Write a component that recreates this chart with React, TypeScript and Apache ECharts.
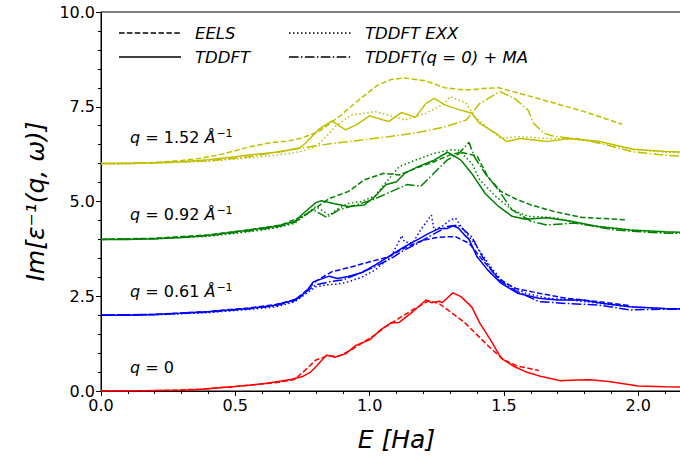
import React, { useEffect, useRef } from "react";
import * as echarts from "echarts";

type P = [number, number][];

const xTicks = [0, 0.5, 1.0, 1.5, 2.0];
const yTicks = [0, 2.5, 5.0, 7.5, 10.0];

const legendNames = ["EELS", "TDDFT", "TDDFT EXX", "TDDFT(q = 0) + MA"];
const qLabels = ["q = 1.52 ", "q = 0.92 ", "q = 0.61 ", "q = 0"];

// q = 0 (red)
const redTDDFT: P = [[0,0],[0.1,0],[0.2,0.01],[0.3,0.02],[0.37,0.04],[0.45,0.09],[0.49,0.11],[0.55,0.15],[0.61,0.2],[0.66,0.25],[0.71,0.31],[0.75,0.38],[0.78,0.5],[0.8,0.64],[0.82,0.8],[0.84,0.95],[0.87,0.89],[0.91,0.98],[0.95,1.21],[1.0,1.35],[1.04,1.61],[1.08,1.8],[1.11,1.81],[1.16,2.09],[1.21,2.4],[1.23,2.33],[1.26,2.37],[1.27,2.33],[1.31,2.59],[1.34,2.49],[1.38,2.22],[1.41,1.79],[1.45,1.35],[1.49,0.86],[1.54,0.64],[1.58,0.51],[1.64,0.38],[1.71,0.27],[1.77,0.29],[1.82,0.3],[1.89,0.25],[2.0,0.13],[2.1,0.11],[2.2,0.1]];
const redEELS: P = [[0,0],[0.1,0],[0.2,0.01],[0.3,0.03],[0.37,0.05],[0.45,0.09],[0.55,0.15],[0.65,0.22],[0.72,0.3],[0.76,0.55],[0.8,0.82],[0.84,0.92],[0.885,0.92],[0.93,1.08],[0.98,1.3],[1.02,1.48],[1.06,1.7],[1.11,1.92],[1.16,2.14],[1.22,2.38],[1.26,2.3],[1.3,2.09],[1.35,1.83],[1.4,1.48],[1.45,1.13],[1.5,0.82],[1.55,0.66],[1.63,0.54]];

// q = 0.61 (blue)
const blueTDDFT: P = [[0,2],[0.1,2.0],[0.2,2.02],[0.3,2.05],[0.4,2.09],[0.5,2.15],[0.55,2.18],[0.63,2.24],[0.7,2.36],[0.74,2.47],[0.77,2.68],[0.79,2.88],[0.85,3.03],[0.88,2.97],[0.92,3.02],[0.97,3.12],[1.02,3.32],[1.06,3.5],[1.1,3.68],[1.13,3.81],[1.18,4.0],[1.22,4.16],[1.26,4.29],[1.29,4.29],[1.31,4.36],[1.33,4.3],[1.35,4.14],[1.37,4.0],[1.4,3.54],[1.44,3.19],[1.49,2.84],[1.55,2.58],[1.63,2.45],[1.7,2.4],[1.79,2.4],[1.87,2.31],[1.97,2.22],[2.1,2.18],[2.2,2.16]];
const blueEELS: P = [[0,2],[0.2,2.02],[0.4,2.1],[0.55,2.19],[0.65,2.28],[0.72,2.4],[0.76,2.62],[0.8,2.9],[0.86,3.15],[0.92,3.25],[0.98,3.37],[1.07,3.54],[1.14,3.81],[1.2,3.98],[1.25,4.05],[1.29,4.07],[1.32,4.07],[1.37,3.9],[1.42,3.46],[1.48,2.97],[1.54,2.71],[1.63,2.58],[1.73,2.45],[1.85,2.36],[1.97,2.25]];
const blueEXX: P = [[0,2],[0.2,2.01],[0.4,2.07],[0.55,2.15],[0.65,2.22],[0.72,2.35],[0.77,2.6],[0.8,2.75],[0.84,2.8],[0.88,2.82],[0.92,2.88],[0.97,3.0],[1.02,3.19],[1.05,3.37],[1.08,3.55],[1.12,4.1],[1.13,3.93],[1.16,3.9],[1.19,4.25],[1.23,4.64],[1.24,4.25],[1.27,4.35],[1.3,4.51],[1.32,4.56],[1.34,4.34],[1.39,3.9],[1.45,3.28],[1.5,2.85],[1.58,2.58],[1.66,2.45],[1.75,2.4],[1.85,2.32],[1.97,2.22],[2.1,2.17],[2.2,2.15]];
const blueMA: P = [[0,2],[0.2,2.02],[0.4,2.08],[0.55,2.17],[0.65,2.25],[0.72,2.38],[0.76,2.6],[0.8,2.8],[0.85,2.88],[0.9,2.93],[0.96,3.1],[1.02,3.28],[1.08,3.5],[1.13,3.72],[1.18,3.9],[1.22,4.07],[1.29,4.34],[1.33,4.38],[1.38,4.07],[1.42,3.54],[1.48,2.93],[1.54,2.66],[1.63,2.36],[1.73,2.31],[1.85,2.27],[1.97,2.14],[2.1,2.16],[2.2,2.15]];

// q = 0.92 (green)
const greenTDDFT: P = [[0,4],[0.1,4.0],[0.2,4.02],[0.3,4.05],[0.4,4.1],[0.5,4.2],[0.55,4.25],[0.65,4.34],[0.72,4.47],[0.76,4.73],[0.8,4.97],[0.82,5.02],[0.87,4.94],[0.92,4.87],[0.98,4.91],[1.02,5.13],[1.06,5.44],[1.1,5.52],[1.13,5.74],[1.18,5.92],[1.24,6.09],[1.29,6.3],[1.32,6.18],[1.34,6.09],[1.38,5.74],[1.43,5.21],[1.48,4.87],[1.53,4.61],[1.58,4.53],[1.66,4.57],[1.75,4.48],[1.85,4.34],[1.97,4.25],[2.1,4.2],[2.2,4.18]];
const greenEELS: P = [[0,4],[0.2,4.03],[0.4,4.12],[0.55,4.25],[0.67,4.38],[0.76,4.64],[0.85,5.08],[0.92,5.26],[0.98,5.57],[1.05,5.74],[1.11,5.7],[1.17,5.87],[1.24,6.05],[1.3,6.23],[1.34,6.3],[1.4,6.2],[1.44,5.65],[1.49,5.26],[1.54,5.08],[1.6,4.91],[1.69,4.73],[1.79,4.58],[1.95,4.52]];
const greenEXX: P = [[0,4],[0.2,4.02],[0.4,4.08],[0.55,4.2],[0.65,4.3],[0.72,4.42],[0.77,4.7],[0.8,4.87],[0.85,4.64],[0.88,4.8],[0.92,4.95],[0.97,5.0],[1.02,5.15],[1.06,5.5],[1.11,5.92],[1.17,6.09],[1.24,6.27],[1.3,6.36],[1.33,6.36],[1.38,6.01],[1.41,5.57],[1.47,5.13],[1.53,4.78],[1.59,4.61],[1.69,4.57],[1.81,4.38],[1.97,4.25],[2.1,4.17],[2.2,4.15]];
const greenMA: P = [[0,4],[0.2,4.02],[0.4,4.1],[0.55,4.22],[0.65,4.32],[0.72,4.45],[0.76,4.65],[0.79,4.78],[0.84,4.58],[0.885,4.78],[0.95,4.91],[1.01,5.04],[1.08,5.26],[1.14,5.45],[1.19,5.4],[1.24,5.75],[1.29,6.1],[1.33,6.25],[1.37,6.56],[1.39,6.18],[1.43,5.74],[1.48,5.3],[1.53,4.78],[1.6,4.48],[1.66,4.38],[1.76,4.43],[1.81,4.38],[1.91,4.25],[2.05,4.18],[2.2,4.15]];

// q = 1.52 (yellow)
const yellowTDDFT: P = [[0,6],[0.1,6.0],[0.2,6.02],[0.3,6.05],[0.4,6.1],[0.5,6.18],[0.55,6.23],[0.67,6.31],[0.74,6.42],[0.76,6.53],[0.81,6.9],[0.86,7.13],[0.91,6.89],[0.95,7.02],[1.0,7.26],[1.07,7.11],[1.12,7.35],[1.17,7.22],[1.21,7.59],[1.24,7.72],[1.28,7.55],[1.33,7.43],[1.38,7.33],[1.41,7.06],[1.47,6.8],[1.51,6.58],[1.56,6.66],[1.66,6.58],[1.74,6.66],[1.86,6.58],[1.98,6.38],[2.1,6.32],[2.2,6.3]];
const yellowEELS: P = [[0,6],[0.1,6.0],[0.2,6.03],[0.3,6.08],[0.37,6.14],[0.45,6.25],[0.51,6.36],[0.55,6.44],[0.63,6.55],[0.7,6.6],[0.74,6.66],[0.81,6.84],[0.885,7.23],[0.96,7.68],[1.03,8.07],[1.08,8.22],[1.13,8.26],[1.21,8.18],[1.28,8.0],[1.36,7.94],[1.42,7.98],[1.48,8.0],[1.56,7.85],[1.67,7.63],[1.8,7.37],[1.94,7.04]];
const yellowEXX: P = [[0,6],[0.2,6.01],[0.4,6.06],[0.55,6.15],[0.65,6.22],[0.74,6.31],[0.8,6.45],[0.85,6.8],[0.87,6.97],[0.93,7.28],[1.02,7.37],[1.07,7.28],[1.13,7.15],[1.21,7.33],[1.28,7.59],[1.3,7.77],[1.36,7.59],[1.39,7.24],[1.44,6.94],[1.49,6.66],[1.55,6.71],[1.67,6.66],[1.76,6.64],[1.86,6.56],[1.98,6.38],[2.1,6.3],[2.2,6.28]];
const yellowMA: P = [[0,6],[0.2,6.02],[0.4,6.07],[0.55,6.18],[0.66,6.31],[0.79,6.46],[0.86,6.53],[0.97,6.62],[1.07,6.71],[1.18,6.82],[1.28,6.97],[1.36,7.15],[1.41,7.59],[1.485,7.9],[1.54,7.72],[1.59,7.41],[1.61,7.06],[1.65,6.8],[1.69,6.71],[1.77,6.66],[1.86,6.53],[1.98,6.31],[2.1,6.22],[2.2,6.18]];

const RED = "#ff0000";
const BLUE = "#0000ff";
const GREEN = "#008000";
const YELLOW = "#bfbf00";

const DASHED: any = [5.5, 2.4];
const DOTTED: any = [1.5, 2.5];
const DASHDOT: any = [9.6, 2.4, 1.5, 2.4];

const FONT = "DejaVu Sans";

export default function App() {
  const ref = useRef<HTMLDivElement>(null);
  useEffect(() => {
    document.body.style.margin = "0";
    document.body.style.overflow = "hidden";
    if (!ref.current) return;
    const chart = echarts.init(ref.current, undefined, { renderer: "svg" });

    const mk = (data: P, color: string, type: any, z = 2) => ({
      type: "line",
      data,
      showSymbol: false,
      symbol: "none",
      smooth: false,
      z,
      lineStyle: { color, width: 1.5, type },
      emphasis: { disabled: true },
    });

    const series = [
      mk(redEELS, RED, DASHED),
      mk(redTDDFT, RED, "solid"),
      mk(blueEELS, BLUE, DASHED),
      mk(blueTDDFT, BLUE, "solid"),
      mk(blueEXX, BLUE, DOTTED),
      mk(blueMA, BLUE, DASHDOT),
      mk(greenEELS, GREEN, DASHED),
      mk(greenTDDFT, GREEN, "solid"),
      mk(greenEXX, GREEN, DOTTED),
      mk(greenMA, GREEN, DASHDOT),
      mk(yellowEELS, YELLOW, DASHED),
      mk(yellowTDDFT, YELLOW, "solid"),
      mk(yellowEXX, YELLOW, DOTTED),
      mk(yellowMA, YELLOW, DASHDOT),
    ];

    const legendRow = (x0: number, y: number, dash: any, label: string) => [
      {
        type: "line",
        shape: { x1: x0, y1: y, x2: x0 + 62, y2: y },
        style: { stroke: "#000", lineWidth: 1.5, lineDash: dash === "solid" ? null : dash },
      },
      {
        type: "text",
        x: x0 + 76,
        y,
        style: {
          text: label,
          font: `italic 16.5px "${FONT}"`,
          fill: "#000",
          textVerticalAlign: "middle",
          verticalAlign: "middle",
        },
      },
    ];

    const qText = (y: number, label: string, withUnit: boolean) => ({
      type: "text",
      x: 130,
      y,
      style: {
        text: withUnit ? `{q|q}{n|${label.slice(1)}}{a|Å}{s|−1}` : `{q|q}{n|${label.slice(1)}}`,
        verticalAlign: "middle",
        fill: "#000",
        rich: {
          q: { fontFamily: FONT, fontStyle: "italic", fontSize: 16, fill: "#000" },
          n: { fontFamily: FONT, fontSize: 16, fill: "#000" },
          a: { fontFamily: FONT, fontStyle: "italic", fontSize: 16, fill: "#000" },
          s: { fontFamily: FONT, fontSize: 11, fill: "#000", verticalAlign: "top", padding: [0, 0, 8, 1] },
        },
      },
    });

    chart.setOption({
      animation: false,
      grid: {
        left: 101,
        top: 12,
        bottom: 66,
        right: 0,
        show: true,
        borderColor: "#000",
        borderWidth: 1,
        backgroundColor: "transparent",
      },
      xAxis: {
        type: "value",
        min: 0,
        max: 2.2,
        interval: 0.5,
        name: "E [Ha]",
        nameLocation: "middle",
        nameGap: 36,
        nameTextStyle: { fontFamily: FONT, fontStyle: "italic", fontSize: 25, color: "#000" },
        axisLine: { show: true, onZero: false, lineStyle: { color: "#000", width: 1 } },
        axisTick: { show: true, length: 5, lineStyle: { color: "#000" } },
        minorTick: { show: true, splitNumber: 5, length: 3, lineStyle: { color: "#000" } },
        splitLine: { show: false },
        axisLabel: {
          fontFamily: FONT,
          fontSize: 16,
          color: "#000",
          margin: 6,
          formatter: (v: number) => (xTicks.some((t) => Math.abs(t - v) < 1e-9) ? v.toFixed(1) : ""),
        },
      },
      yAxis: {
        type: "value",
        min: 0,
        max: 10,
        interval: 2.5,
        name: "Im[ε⁻¹(q, ω)]",
        nameLocation: "middle",
        nameGap: 50,
        nameTextStyle: { fontFamily: FONT, fontStyle: "italic", fontSize: 25, color: "#000" },
        axisLine: { show: true, onZero: false, lineStyle: { color: "#000", width: 1 } },
        axisTick: { show: true, length: 5, lineStyle: { color: "#000" } },
        minorTick: { show: true, splitNumber: 5, length: 3, lineStyle: { color: "#000" } },
        splitLine: { show: false },
        axisLabel: {
          fontFamily: FONT,
          fontSize: 16,
          color: "#000",
          margin: 6,
          formatter: (v: number) => (yTicks.some((t) => Math.abs(t - v) < 1e-9) ? v.toFixed(1) : ""),
        },
      },
      series,
      graphic: [
        ...legendRow(119, 33, DASHED, legendNames[0]),
        ...legendRow(119, 57, "solid", legendNames[1]),
        ...legendRow(289, 33, DOTTED, legendNames[2]),
        ...legendRow(289, 57, DASHDOT, legendNames[3]),
        qText(137, qLabels[0], true),
        qText(214, qLabels[1], true),
        qText(291, qLabels[2], true),
        qText(367, qLabels[3], false),
      ],
    });
    return () => chart.dispose();
  }, []);
  return <div ref={ref} style={{ width: 695, height: 457 }} />;
}
